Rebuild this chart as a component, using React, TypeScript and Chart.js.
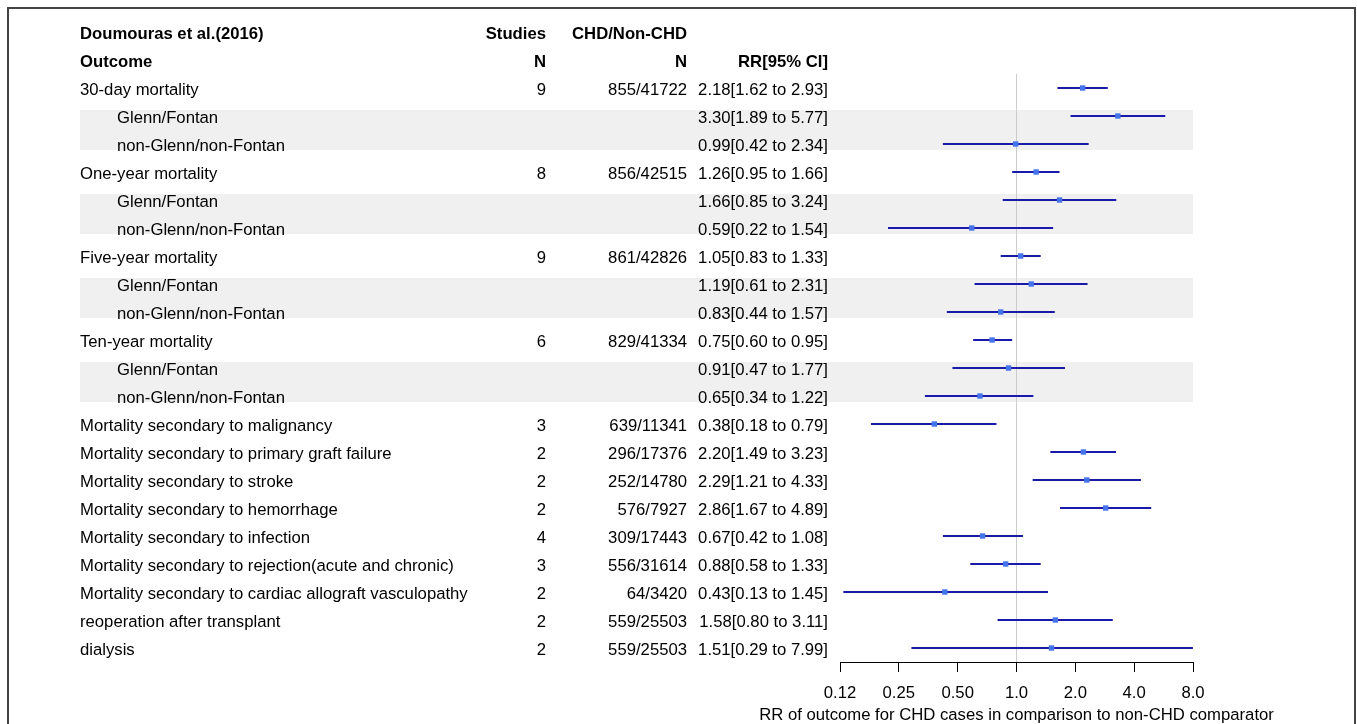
import React, { useEffect, useRef } from "react";
import { Chart, registerables } from "chart.js";

Chart.register(...registerables);

const outcomes = [
  "30-day mortality", "Glenn/Fontan", "non-Glenn/non-Fontan",
  "One-year mortality", "Glenn/Fontan", "non-Glenn/non-Fontan",
  "Five-year mortality", "Glenn/Fontan", "non-Glenn/non-Fontan",
  "Ten-year mortality", "Glenn/Fontan", "non-Glenn/non-Fontan",
  "Mortality secondary to malignancy",
  "Mortality secondary to primary graft failure",
  "Mortality secondary to stroke",
  "Mortality secondary to hemorrhage",
  "Mortality secondary to infection",
  "Mortality secondary to rejection(acute and chronic)",
  "Mortality secondary to cardiac allograft vasculopathy",
  "reoperation after transplant",
  "dialysis",
];
const isSubgroup = [false, true, true, false, true, true, false, true, true, false, true, true,
  false, false, false, false, false, false, false, false, false];
const studiesN = ["9", "", "", "8", "", "", "9", "", "", "6", "", "", "3", "2", "2", "2", "4", "3", "2", "2", "2"];
const chdN = ["855/41722", "", "", "856/42515", "", "", "861/42826", "", "", "829/41334", "", "",
  "639/11341", "296/17376", "252/14780", "576/7927", "309/17443", "556/31614", "64/3420", "559/25503", "559/25503"];
const rr = [2.18, 3.30, 0.99, 1.26, 1.66, 0.59, 1.05, 1.19, 0.83, 0.75, 0.91, 0.65, 0.38, 2.20, 2.29, 2.86, 0.67, 0.88, 0.43, 1.58, 1.51];
const lower = [1.62, 1.89, 0.42, 0.95, 0.85, 0.22, 0.83, 0.61, 0.44, 0.60, 0.47, 0.34, 0.18, 1.49, 1.21, 1.67, 0.42, 0.58, 0.13, 0.80, 0.29];
const upper = [2.93, 5.77, 2.34, 1.66, 3.24, 1.54, 1.33, 2.31, 1.57, 0.95, 1.77, 1.22, 0.79, 3.23, 4.33, 4.89, 1.08, 1.33, 1.45, 3.11, 7.99];
const bandPairs = [[1, 2], [4, 5], [7, 8], [10, 11]];
const tickValues = [0.125, 0.25, 0.5, 1, 2, 4, 8];
const tickLabels = ["0.12", "0.25", "0.50", "1.0", "2.0", "4.0", "8.0"];
const titleText = "Doumouras et al.(2016)";
const xTitle = "RR of outcome for CHD cases in comparison to non-CHD comparator";

const FONT_FAMILY = '"Liberation Sans", Arial, sans-serif';
const FS = 16.7;
const ROW0 = 2; // first data row index in y space

export default function App() {
  const ref = useRef<HTMLCanvasElement | null>(null);
  useEffect(() => {
    const canvas = ref.current;
    if (!canvas) return;
    const rowY = (i: number) => i + ROW0;

    const tablePlugin = {
      id: "tablePlugin",
      beforeDatasetsDraw(chart: any) {
        const { ctx, scales } = chart;
        const y = scales.y;
        const x = scales.x;
        ctx.save();
        ctx.fillStyle = "#f0f0f0";
        for (const [a, b] of bandPairs) {
          const top = y.getPixelForValue(rowY(a) - 0.215);
          const bot = y.getPixelForValue(rowY(b) + 0.215);
          ctx.fillRect(80, top, x.right - 80, bot - top);
        }
        ctx.restore();
      },
      afterDraw(chart: any) {
        const { ctx, scales, chartArea } = chart;
        const y = scales.y;
        ctx.save();
        // frame
        ctx.strokeStyle = "#444";
        ctx.lineWidth = 2;
        ctx.strokeRect(8, 8, 1347, 1000);
        ctx.fillStyle = "#000";
        ctx.textBaseline = "alphabetic";
        const base = (i: number) => y.getPixelForValue(i) + 7;
        const bold = `bold ${FS}px ${FONT_FAMILY}`;
        const normal = `${FS}px ${FONT_FAMILY}`;
        ctx.font = bold;
        ctx.textAlign = "left";
        ctx.fillText(titleText, 80, base(0));
        ctx.fillText("Outcome", 80, base(1));
        ctx.textAlign = "right";
        ctx.fillText("Studies", 546, base(0));
        ctx.fillText("CHD/Non-CHD", 687, base(0));
        ctx.fillText("N", 546, base(1));
        ctx.fillText("N", 687, base(1));
        ctx.fillText("RR[95% CI]", 828, base(1));
        ctx.font = normal;
        outcomes.forEach((o, i) => {
          const b = base(rowY(i));
          ctx.textAlign = "left";
          ctx.fillText(o, isSubgroup[i] ? 117 : 80, b);
          ctx.textAlign = "right";
          if (studiesN[i]) ctx.fillText(studiesN[i], 546, b);
          if (chdN[i]) ctx.fillText(chdN[i], 687, b);
          ctx.fillText(`${rr[i].toFixed(2)}[${lower[i].toFixed(2)} to ${upper[i].toFixed(2)}]`, 828, b);
        });
        // x axis title
        ctx.textAlign = "center";
        ctx.fillText(xTitle, (chartArea.left + chartArea.right) / 2, chartArea.bottom + 58);
        ctx.restore();
      },
    };

    const ciDatasets = outcomes.map((_, i) => ({
      type: "line" as const,
      data: [{ x: lower[i], y: rowY(i) }, { x: upper[i], y: rowY(i) }],
      borderColor: "#1a1aa8",
      borderWidth: 1.8,
      pointRadius: 0,
      order: 2,
    }));

    const chart = new Chart(canvas, {
      type: "scatter",
      data: {
        datasets: [
          {
            type: "line" as const,
            data: [{ x: 1, y: 1.5 }, { x: 1, y: 22.5 }],
            borderColor: "#cccccc",
            borderWidth: 1,
            pointRadius: 0,
            order: 3,
          },
          ...ciDatasets,
          {
            type: "scatter" as const,
            data: rr.map((v, i) => ({ x: v, y: rowY(i) })),
            pointStyle: "rect",
            pointRadius: 3.8,
            backgroundColor: "#4573ea",
            borderColor: "#4573ea",
            borderWidth: 0,
            order: 1,
          },
        ] as any,
      },
      options: {
        animation: false,
        responsive: false,
        devicePixelRatio: 1,
        layout: { padding: { left: 840, right: 164, top: 74, bottom: 0 } },
        plugins: { legend: { display: false }, tooltip: { enabled: false } },
        scales: {
          x: {
            type: "logarithmic",
            position: "bottom",
            min: 0.125,
            max: 8,
            afterBuildTicks: (scale: any) => {
              scale.ticks = tickValues.map((v) => ({ value: v }));
            },
            afterFit: (scale: any) => {
              scale.height = 62;
            },
            ticks: {
              autoSkip: false,
              maxRotation: 0,
              color: "#000",
              padding: 11,
              font: { family: FONT_FAMILY, size: FS },
              callback: (v: any) => {
                const idx = tickValues.findIndex((t) => Math.abs(t - Number(v)) < 1e-9);
                return idx >= 0 ? tickLabels[idx] : "";
              },
            },
            grid: {
              display: true,
              drawOnChartArea: false,
              drawTicks: true,
              tickLength: 10,
              tickColor: "#000",
              tickWidth: 1,
            },
            border: { display: true, color: "#000", width: 1 },
            title: { display: false },
          },
          y: {
            type: "linear",
            reverse: true,
            min: 1.5,
            max: 22.5,
            display: false,
          },
        },
      },
      plugins: [tablePlugin],
    } as any);
    return () => chart.destroy();
  }, []);

  return (
    <div style={{ position: "fixed", left: 0, top: 0, width: 1357, height: 724, background: "#fff" }}>
      <canvas ref={ref} width={1357} height={724} style={{ width: 1357, height: 724, display: "block" }} />
    </div>
  );
}
